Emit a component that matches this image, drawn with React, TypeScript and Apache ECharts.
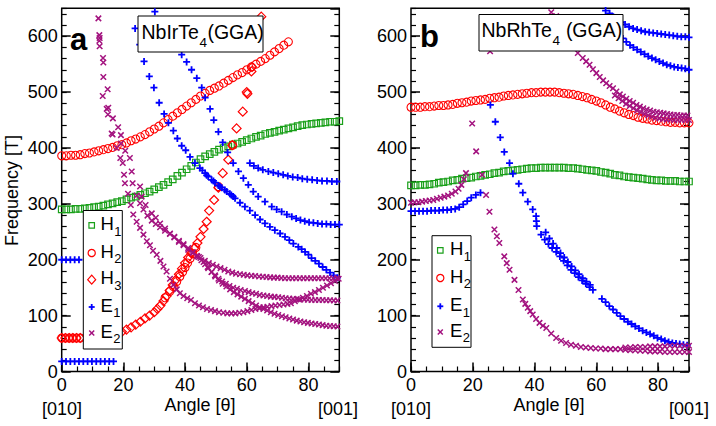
import React, { useEffect, useRef } from 'react';
import * as echarts from 'echarts';

type Pt = [number, number];

// ---------- axis ranges ----------
const ANGLE_MIN = 0;
const ANGLE_MAX = 90;
const ANGLE_MAJOR = 20;
const ANGLE_MINOR = 5;
const FREQ_MIN = 0;
const FREQ_MAX = 650;
const FREQ_MAJOR = 100;
const FREQ_MINOR = 20;

// ---------- panel a : NbIrTe4 ----------
const irH1: Pt[] = [
  [0, 290], [1.5, 290], [3, 290], [4.5, 291], [6, 291], [7.5, 292], [9, 293], [10.5, 294], [12, 295], [13.5, 297],
  [15, 299], [16.5, 301], [18, 303], [19.5, 305], [21, 308], [22.5, 311], [24, 313], [25.5, 316], [27, 319], [28.5, 322],
  [30, 326], [31.5, 330], [33, 334], [34.5, 339], [36, 344], [37.5, 350], [39, 356], [40.5, 362], [42, 368], [43.5, 374],
  [45, 380], [46.5, 385], [48, 389], [49.5, 393], [51, 397], [52.5, 400], [54, 403], [55.5, 406], [57, 408], [58.5, 411],
  [60, 414], [61.5, 417], [63, 420], [64.5, 422], [66, 425], [67.5, 427], [69, 429], [70.5, 431], [72, 433], [73.5, 435],
  [75, 437], [76.5, 439], [78, 441], [79.5, 442], [81, 443], [82.5, 444], [84, 445], [85.5, 446], [87, 447], [88.5, 447], [90, 448],
];
const irH2: Pt[] = [
  [0, 386], [1.5, 386], [3, 387], [4.5, 387], [6, 388], [7.5, 390], [9, 391], [10.5, 393], [12, 395], [13.5, 397],
  [15, 399], [16.5, 401], [18, 404], [19.5, 406], [21, 409], [22.5, 413], [24, 416], [25.5, 420], [27, 424], [28.5, 429],
  [30, 434], [31.5, 439], [33, 445], [34.5, 451], [36, 457], [37.5, 463], [39, 469], [40.5, 475], [42, 481], [43.5, 487],
  [45, 493], [46.5, 498], [48, 503], [49.5, 507], [51, 511], [52.5, 516], [54, 521], [55.5, 526], [57, 531], [58.5, 535],
  [60, 540], [61.5, 545], [63, 550], [64.5, 555], [66, 560], [67.5, 566], [69, 572], [70.5, 578], [72, 584], [73.5, 590],
  // low branch
  [0, 60], [1.2, 60], [2.4, 60], [3.6, 60], [4.8, 60], [6, 60], [10, 61], [15, 64],
  [33.5, 132], [35, 143], [36.2, 152], [37.3, 161], [38.3, 170], [39.2, 178], [40, 186], [40.8, 194], [41.6, 202],
  [42.5, 211], [43.5, 222], [50.8, 331], [55.4, 405],
];
const irH3: Pt[] = [
  [0, 60], [1.2, 60], [2.4, 60], [3.6, 60], [4.8, 60], [6, 60], [9, 62], [12, 64], [15, 66], [18, 69],
  [19.5, 71], [21, 75], [22.5, 79], [24, 84], [25.5, 89], [27, 95], [28.5, 100], [30, 106], [31, 112], [32, 118],
  [33, 126], [34, 135], [35, 145], [36, 155], [37, 164], [38, 174], [39, 184], [40, 194], [41, 204], [42, 212],
  [43, 221], [44, 230], [45, 241], [46, 255], [47, 268], [47.8, 288], [49.4, 307], [50.8, 329], [52.2, 355], [54, 379],
  [55.3, 405], [56.7, 435], [58.7, 465], [60, 500], [60.2, 497], [61.5, 537], [61.7, 545], [64.7, 635],
];
const irE1: Pt[] = [
  // flat low branch
  [0, 18], [1.4, 18], [2.8, 18], [4.2, 18], [5.6, 18], [7, 18], [8.4, 18], [9.8, 18], [11.2, 18], [12.6, 18], [14, 18], [15.4, 18], [16.8, 18],
  // flat 200 branch
  [0, 200], [1.4, 200], [2.8, 200], [4.2, 200], [5.6, 200],
  // first steep branch
  [23.8, 614], [25.3, 585], [26.7, 555], [28.4, 528], [29.9, 508], [31.6, 481], [33.2, 461], [34.6, 445], [36.2, 431], [37.5, 417],
  [38.9, 404], [40.2, 396], [41.6, 384], [43.2, 373], [44.8, 364], [46.5, 355], [47.5, 349], [48.6, 343], [49.7, 338], [50.8, 333],
  [51.9, 329], [52.9, 325], [54.5, 318], [55.6, 313], [56.2, 310], [57.8, 302], [59.4, 295], [61, 288], [62.7, 280], [64.3, 272],
  [65.9, 265], [67.5, 259], [69.1, 253], [70.8, 247], [72.4, 241], [73.8, 235], [75.1, 229], [76.7, 223], [77.8, 219], [78.9, 214],
  [80, 209], [81, 203], [82.2, 198], [83.4, 193], [84.6, 187], [85.8, 182], [87, 177], [88.2, 172], [89.4, 168],
  [45.6, 360], [47, 351], [49.2, 341], [51.3, 331], [53.5, 322], [55, 316],
  // second steep branch
  [30.2, 644], [32, 630], [34, 615], [36, 598], [37.5, 583], [38.9, 567], [40.5, 554], [42.1, 540], [43.8, 525], [45.4, 508],
  [46.5, 490], [48.1, 470], [49.3, 450], [50.8, 429], [52.2, 410], [53.8, 392], [55.6, 373], [57.3, 358], [58.9, 346], [60.5, 334],
  [62.1, 322], [63.7, 313], [65.9, 304], [68.1, 295], [69.7, 290], [71.3, 286], [73, 281], [74.6, 277], [76, 274], [77.4, 271],
  [78.8, 269], [80.2, 267], [81.6, 266], [83, 265], [84.4, 264], [85.8, 264], [87.2, 263], [88.6, 263], [90, 263],
  // upper flat branch
  [61, 373], [62.3, 368], [63.7, 364], [65.2, 361], [67, 358], [68.6, 356], [70.2, 354], [71.8, 352], [73.3, 350], [74.9, 348],
  [76.5, 347], [78, 345], [79.6, 344], [81.2, 343], [82.8, 342], [84.4, 341], [86, 341], [87.6, 340], [89.2, 340],
];
const irE2: Pt[] = [
  // steep branch into the lower valley and the rise at 90
  [11.9, 632], [12.2, 602], [12.2, 592], [12.3, 582], [13.4, 561], [13.5, 527], [13.3, 493], [14.6, 470], [15, 460], [16.2, 426],
  [16.5, 424], [17.8, 400], [19, 382], [19.8, 373], [20.2, 352], [20.5, 337], [21.5, 318], [22.4, 298], [23.2, 281], [24.3, 268],
  [25.4, 257], [26.5, 245], [27.6, 233], [28.6, 226], [29.6, 216], [30.8, 209], [32, 198], [33, 188], [34, 179], [35.1, 166],
  [36.2, 155], [37.3, 147], [38.3, 140], [39.5, 135], [40.7, 131], [41.9, 128], [43.2, 122], [44.5, 118], [45.8, 115], [47.1, 112],
  [48.4, 110], [49.7, 108], [51, 106], [52.4, 105], [53.7, 104], [55, 104], [56.3, 104], [57.6, 105], [58.9, 106], [60.2, 108],
  [61.5, 110], [62.8, 112], [64.1, 113], [65.4, 115], [66.7, 116], [68, 117], [69.3, 118], [70.6, 119], [71.9, 120], [73.2, 121],
  [74.3, 122], [75.6, 126], [76.9, 129], [78.2, 132], [79.5, 135], [80.8, 139], [82.1, 142], [83.4, 146], [84.7, 150], [86, 154],
  [87.3, 158], [88.6, 162], [89.8, 166],
  // branch settling at 167
  [12.3, 597], [13.5, 553], [14.9, 505], [15.1, 472], [16.6, 453], [18.3, 437], [19.2, 423], [19.2, 408], [20.6, 395], [22.1, 382],
  [22.7, 358], [23, 337], [24.3, 315], [25.4, 301], [26.5, 290], [27.8, 279], [29.2, 270], [30.5, 264], [31.9, 258], [33.5, 252],
  [35.1, 246], [36.5, 240], [38, 232], [39.5, 226], [41, 218], [42.5, 212], [43.8, 207], [45, 203], [46.4, 198], [47.7, 194],
  [49, 191], [50.2, 188], [51.5, 185], [52.8, 182], [54, 179], [55.3, 177], [56.5, 175], [57.8, 174], [59, 173], [60.2, 172],
  [61.5, 171.5], [62.7, 171], [64, 170], [65.2, 169.5], [66.4, 169], [67.6, 168.5], [68.8, 168], [70, 168], [71.2, 167.5], [72.4, 167],
  [73.6, 167], [74.8, 167], [76, 167], [77.2, 167], [78.4, 167], [79.6, 167], [80.8, 167], [82, 167], [83.2, 167], [84.4, 167],
  [85.6, 167], [86.8, 167], [88, 167], [89.2, 167],
  // branch settling at 128
  [25.4, 331], [25.9, 313], [27.2, 298], [29.2, 283], [30.5, 275], [31.9, 265], [33.5, 256], [35.1, 247], [36.5, 241], [38, 234],
  [39.5, 228], [41, 221], [42.5, 214], [44, 206], [45.3, 199], [46.5, 192], [47.5, 185], [48.6, 178], [49.7, 172], [50.8, 166],
  [52, 161], [53.2, 157], [54.4, 153], [55.6, 150], [56.8, 148], [58, 146], [59.4, 144], [60.6, 142], [61.8, 140], [63, 139],
  [64.2, 137], [65.4, 136], [66.6, 135], [67.8, 134], [69, 133.5], [70.2, 133], [71.4, 132], [72.6, 131], [73.8, 130.5], [75, 130],
  [76.2, 129.5], [77.4, 129], [78.6, 129], [79.8, 128.5], [81, 128], [82.2, 128], [83.4, 128], [84.6, 128], [85.8, 127.5], [87, 127.5],
  [88.2, 127], [89.4, 127],
  // branch settling at 80
  [44.5, 205], [46, 196], [47.3, 187], [48.6, 178], [49.8, 170], [51, 163], [52.2, 157], [53.4, 152], [54.6, 147], [55.8, 142],
  [57, 138], [58.2, 134], [59.4, 130], [60.6, 126], [61.8, 122], [63, 118], [64.2, 115], [65.4, 112], [66.6, 109], [67.8, 106],
  [69, 103.5], [70.2, 101], [71.4, 99], [72.6, 97], [73.8, 95], [75, 93], [76.2, 91], [77.4, 89.5], [78.6, 88], [79.8, 87],
  [81, 86], [82.2, 85], [83.4, 84], [84.6, 83], [85.8, 82], [87, 81.5], [88.2, 81], [89.4, 80.5],
];

// ---------- panel b : NbRhTe4 ----------
const rhH1: Pt[] = [
  [0, 333], [1.5, 333], [3, 334], [4.5, 334], [6, 335], [7.5, 336], [9, 338], [10.5, 339], [12, 340], [13.5, 342],
  [15, 343], [16.5, 345], [18, 346], [19.5, 347], [21, 349], [22.5, 350], [24, 352], [25.5, 353], [27, 355], [28.5, 356],
  [30, 358], [31.5, 359], [33, 360], [34.5, 361], [36, 362], [37.5, 363], [39, 364], [40.5, 364], [42, 365], [43.5, 365],
  [45, 365], [46.5, 365], [48, 365], [49.5, 365], [51, 364], [52.5, 364], [54, 363], [55.5, 362], [57, 361], [58.5, 360],
  [60, 359], [61.5, 357], [63, 356], [64.5, 354], [66, 352], [67.5, 351], [69, 349], [70.5, 348], [72, 347], [73.5, 346],
  [75, 345], [76.5, 344], [78, 343], [79.5, 342], [81, 342], [82.5, 341], [84, 341], [85.5, 341], [87, 340], [88.5, 340], [90, 340],
];
const rhH2: Pt[] = [
  [0, 473], [1.5, 473], [3, 473], [4.5, 474], [6, 474], [7.5, 475], [9, 476], [10.5, 476], [12, 477], [13.5, 478],
  [15, 480], [16.5, 481], [18, 482], [19.5, 484], [21, 485], [22.5, 486], [24, 487], [25.5, 489], [27, 490], [28.5, 491],
  [30, 493], [31.5, 494], [33, 495], [34.5, 496], [36, 497], [37.5, 498], [39, 499], [40.5, 499], [42, 500], [43.5, 500],
  [45, 500], [46.5, 500], [48, 499], [49.5, 498], [51, 497], [52.5, 496], [54, 494], [55.5, 492], [57, 490], [58.5, 487],
  [60, 484], [61.5, 481], [63, 477], [64.5, 473], [66, 470], [67.5, 466], [69, 463], [70.5, 460], [72, 458], [73.5, 455],
  [75, 453], [76.5, 452], [78, 450], [79.5, 449], [81, 448], [82.5, 447], [84, 446], [85.5, 446], [87, 445], [88.5, 445], [90, 445],
];
const rhE1: Pt[] = [
  // low-angle branch
  [0, 287], [1.3, 287], [2.6, 287], [3.9, 287], [5.2, 287], [6.5, 288], [7.8, 288], [9.1, 288], [10.4, 289], [11.7, 289],
  [13, 290], [14.3, 291], [15.6, 294], [16.9, 299], [18.2, 305], [19.5, 311], [21, 316], [22.5, 320],
  // descending branch
  [25.7, 477], [27.3, 447], [28.9, 419], [30.2, 393], [31.9, 373], [33, 354], [34.9, 336], [36.2, 320], [37.8, 304], [39.4, 290],
  [40.5, 278], [40.6, 269], [40.7, 260], [42.1, 245], [43.3, 236], [44.5, 228], [45.7, 221], [47, 214], [48.2, 206], [49.4, 198],
  [50.6, 190], [51.8, 182], [53, 176], [54.2, 169], [55.4, 163], [56.6, 157], [57.8, 151], [58.9, 146], [61.8, 130], [63, 124],
  [64.2, 117], [65.4, 111], [66.6, 105], [67.8, 99], [69, 94], [70.2, 89], [71.4, 85], [72.6, 81], [73.8, 77], [75, 73],
  [76.2, 70], [77.4, 67], [78.6, 64], [79.8, 60], [81, 58], [82.2, 55], [83.4, 53], [84.6, 51], [85.8, 50], [87, 49],
  [88.2, 48], [89.4, 47],
  [43.6, 249], [44.8, 238], [46, 229], [47.2, 221], [48.4, 212], [49.6, 204], [50.8, 196], [52, 188], [53.2, 181], [54.4, 174],
  [55.6, 167], [56.8, 161], [58, 155],
  // upper-right branches
  [62, 652], [63, 646], [64.3, 641], [65.5, 635], [66.8, 630], [68, 625], [69.3, 621], [70.6, 617], [71.9, 614], [73.2, 612],
  [74.5, 610], [75.8, 608], [77.1, 607], [78.4, 606], [79.7, 605], [81, 604], [82.3, 603], [83.6, 602], [84.9, 601], [86.2, 600],
  [87.5, 599], [88.8, 599], [90, 598],
  [67.5, 603], [68.6, 596], [69.7, 590], [70.9, 584], [72, 580], [73.2, 576], [74.4, 572], [75.6, 568], [76.8, 564], [78, 561],
  [79.2, 558], [80.4, 555], [81.6, 552], [82.8, 549], [84, 547], [85.2, 545], [86.4, 544], [87.6, 543], [88.8, 542], [90, 540],
];
const rhE2: Pt[] = [
  // low-angle rising branch
  [0, 302], [1.2, 303], [2.4, 303], [3.6, 304], [4.8, 305], [6, 306], [7.2, 307], [8.4, 309], [9.6, 311], [10.8, 313],
  [12, 315], [13.2, 318], [14.4, 322], [15.4, 327], [16.3, 334], [17.1, 344], [17.8, 355],
  // steep branch down to the floor
  [19.8, 444], [21.1, 394], [23, 352], [24.3, 316], [25.4, 286], [27, 254], [27.8, 242], [28.6, 230], [30.2, 206], [31, 194],
  [31.9, 182], [33.5, 164], [34.8, 146], [36.2, 129], [37, 121], [37.8, 114], [38.6, 108], [39.4, 102], [40.5, 94], [41.6, 87],
  [42.7, 82], [43.8, 78], [45.4, 68], [47, 60], [48.6, 55], [50.2, 51], [51.8, 48], [53.4, 46], [55, 44], [56.6, 43],
  [58.2, 42], [59.8, 41], [61.4, 41], [63, 40], [64.6, 40], [66.2, 40], [67.8, 40],
  [69.4, 43], [71, 43], [72.6, 44], [74.2, 44], [75.8, 44], [77.4, 45], [79, 45], [80.6, 45], [82.2, 45], [83.8, 46],
  [85.4, 46], [87, 46], [88.6, 46], [90, 46],
  [69.4, 39], [71, 38], [72.6, 38], [74.2, 37], [75.8, 37], [77.4, 36], [79, 36], [80.6, 36], [82.2, 35], [83.8, 35],
  [85.4, 35], [87, 35], [88.6, 35], [90, 35],
  // high branches
  [25.6, 573], [45.4, 643], [47, 636], [48.5, 626], [50, 612], [51.5, 598], [53, 580], [54, 570], [55.6, 561], [56.7, 555],
  [57.8, 549], [58.9, 541], [60, 534], [61.1, 527], [62.2, 521], [63.2, 516], [64.3, 511], [65.4, 507], [66.5, 501], [67.6, 496],
  [68.6, 492], [69.7, 488], [70.8, 484], [71.9, 481], [73, 477], [74.1, 474], [75.2, 471], [76.3, 469], [77.4, 467], [78.5, 465],
  [79.6, 464], [80.7, 463], [81.8, 462], [82.9, 461], [84, 460], [85.1, 459], [86.2, 459], [87.3, 458], [88.4, 458], [89.5, 458],
  [66, 494], [67.2, 489], [68.4, 484], [69.6, 479], [70.8, 475], [72, 471], [73.2, 467], [74.4, 464], [75.6, 461], [76.8, 458],
  [78, 456], [79.2, 454], [80.4, 453], [81.6, 452], [82.8, 451], [84, 451], [85.2, 450], [86.4, 450], [87.6, 450], [88.8, 450], [90, 450],
];

// ---------- styling ----------
const GREEN = '#1aa01a';
const RED = '#ff0000';
const BLUE = '#0000ff';
const PURPLE = '#a3127f';
const FONT = '"Liberation Sans", Arial, Helvetica, sans-serif';

type Kind = 'square' | 'circle' | 'diamond' | 'plus' | 'cross';
const SYMBOLS: Record<Kind, { symbol: string; size: number; width: number }> = {
  square: { symbol: 'rect', size: 6.5, width: 1.2 },
  circle: { symbol: 'circle', size: 8, width: 1.1 },
  diamond: { symbol: 'diamond', size: 9, width: 1.2 },
  plus: { symbol: 'path://M5,0L5,10M0,5L10,5', size: 7, width: 1.8 },
  cross: { symbol: 'path://M0,0L10,10M10,0L0,10', size: 5.5, width: 1.5 },
};

function scatter(data: Pt[], panel: number, kind: Kind, color: string) {
  const s = SYMBOLS[kind];
  return {
    type: 'scatter',
    data,
    xAxisIndex: panel * 2,
    yAxisIndex: panel * 4,
    symbol: s.symbol,
    symbolSize: s.size,
    itemStyle: { color: 'rgba(0,0,0,0)', borderColor: color, borderWidth: s.width, opacity: 1 },
    silent: true,
    clip: true,
  };
}

const tickStyle = (w: number) => ({ color: '#000', width: w });

function xAxesFor(grid: number) {
  return [
    {
      type: 'value', gridIndex: grid, position: 'bottom', min: ANGLE_MIN, max: ANGLE_MAX, interval: ANGLE_MAJOR,
      axisLine: { show: false, onZero: false }, splitLine: { show: false },
      axisTick: { inside: true, length: 9, lineStyle: tickStyle(1.5) },
      axisLabel: { color: '#000', fontSize: 18, fontFamily: FONT, margin: 4, showMaxLabel: false },
    },
    {
      type: 'value', gridIndex: grid, position: 'bottom', min: ANGLE_MIN, max: ANGLE_MAX, interval: ANGLE_MINOR,
      axisLine: { show: false, onZero: false }, splitLine: { show: false },
      axisTick: { inside: true, length: 5, lineStyle: tickStyle(1.2) },
      axisLabel: { show: false },
    },
  ];
}

function yAxesFor(grid: number) {
  const base = {
    type: 'value', gridIndex: grid, min: FREQ_MIN, max: FREQ_MAX,
    axisLine: { show: false, onZero: false }, splitLine: { show: false },
  };
  return [
    { ...base, position: 'left', interval: FREQ_MAJOR,
      axisTick: { inside: true, length: 9, lineStyle: tickStyle(1.5) },
      axisLabel: { color: '#000', fontSize: 18, fontFamily: FONT, margin: 4, showMaxLabel: false } },
    { ...base, position: 'left', interval: FREQ_MINOR,
      axisTick: { inside: true, length: 5, lineStyle: tickStyle(1.2) }, axisLabel: { show: false } },
    { ...base, position: 'right', interval: FREQ_MAJOR,
      axisTick: { inside: true, length: 9, lineStyle: tickStyle(1.5) }, axisLabel: { show: false } },
    { ...base, position: 'right', interval: FREQ_MINOR,
      axisTick: { inside: true, length: 5, lineStyle: tickStyle(1.2) }, axisLabel: { show: false } },
  ];
}

// width of a string in the chart font, for laying out subscripts
let measureCtx: CanvasRenderingContext2D | null = null;
function textWidth(str: string, size: number): number {
  if (!measureCtx) measureCtx = document.createElement('canvas').getContext('2d');
  if (!measureCtx) return str.length * size * 0.55;
  measureCtx.font = `${size}px ${FONT}`;
  return measureCtx.measureText(str).width;
}

// text placed by its alphabetic baseline
function text(str: string, x: number, baseline: number, size: number, opts: Record<string, unknown> = {}) {
  return {
    type: 'text', x, y: baseline - 0.35 * size, z: 100,
    style: { text: str, fontSize: size, fontFamily: FONT, fill: '#000', align: 'left', verticalAlign: 'middle', ...opts },
  };
}

// a run of text pieces, each with its own size and baseline shift
function textRun(x: number, baseline: number, pieces: { s: string; size: number; shift: number; gap?: number }[]) {
  const els: any[] = [];
  let cx = x;
  pieces.forEach((p) => {
    els.push(text(p.s, cx, baseline + p.shift, p.size));
    cx += textWidth(p.s, p.size) + (p.gap ?? 0);
  });
  return els;
}

function legendSymbol(kind: Kind, cx: number, cy: number, color: string): any[] {
  const st = { fill: 'none', stroke: color, lineWidth: 1.2 };
  switch (kind) {
    case 'square':
      return [{ type: 'rect', z: 101, shape: { x: cx - 2.75, y: cy - 2.75, width: 5.5, height: 5.5 }, style: st }];
    case 'circle':
      return [{ type: 'circle', z: 101, shape: { cx, cy, r: 3.6 }, style: st }];
    case 'diamond':
      return [{ type: 'polygon', z: 101, shape: { points: [[cx, cy - 4.5], [cx + 4, cy], [cx, cy + 4.5], [cx - 4, cy]] }, style: st }];
    case 'plus':
      return [
        { type: 'line', z: 101, shape: { x1: cx - 3, y1: cy, x2: cx + 3, y2: cy }, style: { stroke: color, lineWidth: 1.8 } },
        { type: 'line', z: 101, shape: { x1: cx, y1: cy - 3, x2: cx, y2: cy + 3 }, style: { stroke: color, lineWidth: 1.8 } },
      ];
    default:
      return [
        { type: 'line', z: 101, shape: { x1: cx - 2.5, y1: cy - 2.5, x2: cx + 2.5, y2: cy + 2.5 }, style: { stroke: color, lineWidth: 1.5 } },
        { type: 'line', z: 101, shape: { x1: cx + 2.5, y1: cy - 2.5, x2: cx - 2.5, y2: cy + 2.5 }, style: { stroke: color, lineWidth: 1.5 } },
      ];
  }
}

type LegendRow = { kind: Kind; color: string; letter: string; sub: string; y: number };

function legendBox(box: { x: number; y: number; w: number; h: number }, symX: number, letterX: number, rows: LegendRow[]) {
  const els: any[] = [
    { type: 'rect', z: 100, shape: { x: box.x, y: box.y, width: box.w, height: box.h }, style: { fill: '#fff', stroke: '#000', lineWidth: 1 } },
  ];
  rows.forEach((r) => {
    els.push(...legendSymbol(r.kind, symX, r.y, r.color));
    els.push(...textRun(letterX, r.y + 4.5, [
      { s: r.letter, size: 18.5, shift: 0, gap: 0.5 },
      { s: r.sub, size: 13, shift: 5.8 },
    ]));
  });
  return els;
}

function buildGraphics(): any[] {
  return [
    { type: 'rect', z: 100, shape: { x: 138, y: 16, width: 125, height: 36 }, style: { fill: '#fff', stroke: '#000', lineWidth: 1 } },
    ...textRun(141.5, 38.8, [
      { s: 'NbIrTe', size: 19.5, shift: 0, gap: 0.5 },
      { s: '4', size: 13.5, shift: 8, gap: 0.5 },
      { s: '(GGA)', size: 19.5, shift: 0 },
    ]),
    { type: 'rect', z: 100, shape: { x: 479, y: 14.5, width: 144, height: 36.5 }, style: { fill: '#fff', stroke: '#000', lineWidth: 1 } },
    ...textRun(481.5, 37.3, [
      { s: 'NbRhTe', size: 19.5, shift: 0, gap: 0.5 },
      { s: '4', size: 13.5, shift: 8, gap: 0.5 },
      { s: ' (GGA)', size: 19.5, shift: 0 },
    ]),
    ...legendBox({ x: 83.3, y: 210.5, w: 39, h: 138.5 }, 91.7, 100.5, [
      { kind: 'square', color: GREEN, letter: 'H', sub: '1', y: 225.3 },
      { kind: 'circle', color: RED, letter: 'H', sub: '2', y: 253 },
      { kind: 'diamond', color: RED, letter: 'H', sub: '3', y: 279.7 },
      { kind: 'plus', color: BLUE, letter: 'E', sub: '1', y: 307 },
      { kind: 'cross', color: PURPLE, letter: 'E', sub: '2', y: 333 },
    ]),
    ...legendBox({ x: 432, y: 235.7, w: 39, h: 111.6 }, 440.3, 450, [
      { kind: 'square', color: GREEN, letter: 'H', sub: '1', y: 250.3 },
      { kind: 'circle', color: RED, letter: 'H', sub: '2', y: 278 },
      { kind: 'plus', color: BLUE, letter: 'E', sub: '1', y: 306.3 },
      { kind: 'cross', color: PURPLE, letter: 'E', sub: '2', y: 332 },
    ]),
    text('a', 70, 50, 31, { fontWeight: 'bold' }),
    text('b', 420, 47, 31, { fontWeight: 'bold' }),
    text('Angle [θ]', 200, 411.5, 18, { align: 'center' }),
    text('Angle [θ]', 549, 411.5, 18, { align: 'center' }),
    text('[010]', 62, 415, 18, { align: 'center' }),
    text('[001]', 338, 415, 18, { align: 'center' }),
    text('[010]', 411, 415, 18, { align: 'center' }),
    text('[001]', 689, 415, 18, { align: 'center' }),
    {
      type: 'text', x: 12, y: 190.5, rotation: Math.PI / 2, z: 100,
      style: { text: 'Frequency [T]', fontSize: 18, fontFamily: FONT, fill: '#000', align: 'center', verticalAlign: 'middle' },
    },
  ];
}

function buildOption() {
  const gridBase = { show: true, borderColor: '#000', borderWidth: 1.5, backgroundColor: 'rgba(0,0,0,0)', containLabel: false, outerBoundsMode: 'none' };
  return {
    animation: false,
    backgroundColor: '#fff',
    grid: [
      { ...gridBase, left: 61.7, top: 8.3, width: 277.6, height: 363.2 },
      { ...gridBase, left: 411, top: 8.3, width: 278, height: 363.2 },
    ],
    xAxis: [...xAxesFor(0), ...xAxesFor(1)],
    yAxis: [...yAxesFor(0), ...yAxesFor(1)],
    series: [
      scatter(irH1, 0, 'square', GREEN),
      scatter(irH2, 0, 'circle', RED),
      scatter(irH3, 0, 'diamond', RED),
      scatter(irE1, 0, 'plus', BLUE),
      scatter(irE2, 0, 'cross', PURPLE),
      scatter(rhH1, 1, 'square', GREEN),
      scatter(rhH2, 1, 'circle', RED),
      scatter(rhE1, 1, 'plus', BLUE),
      scatter(rhE2, 1, 'cross', PURPLE),
    ],
    graphic: { elements: buildGraphics() },
  };
}

export default function App() {
  const ref = useRef<HTMLDivElement>(null);
  useEffect(() => {
    if (!ref.current) return;
    const chart = echarts.init(ref.current, null, { renderer: 'svg', width: 716, height: 426 });
    chart.setOption(buildOption() as any);
    return () => chart.dispose();
  }, []);
  return (
    <div
      ref={ref}
      style={{ position: 'fixed', left: 0, top: 0, width: 716, height: 426, background: '#fff' }}
    />
  );
}
